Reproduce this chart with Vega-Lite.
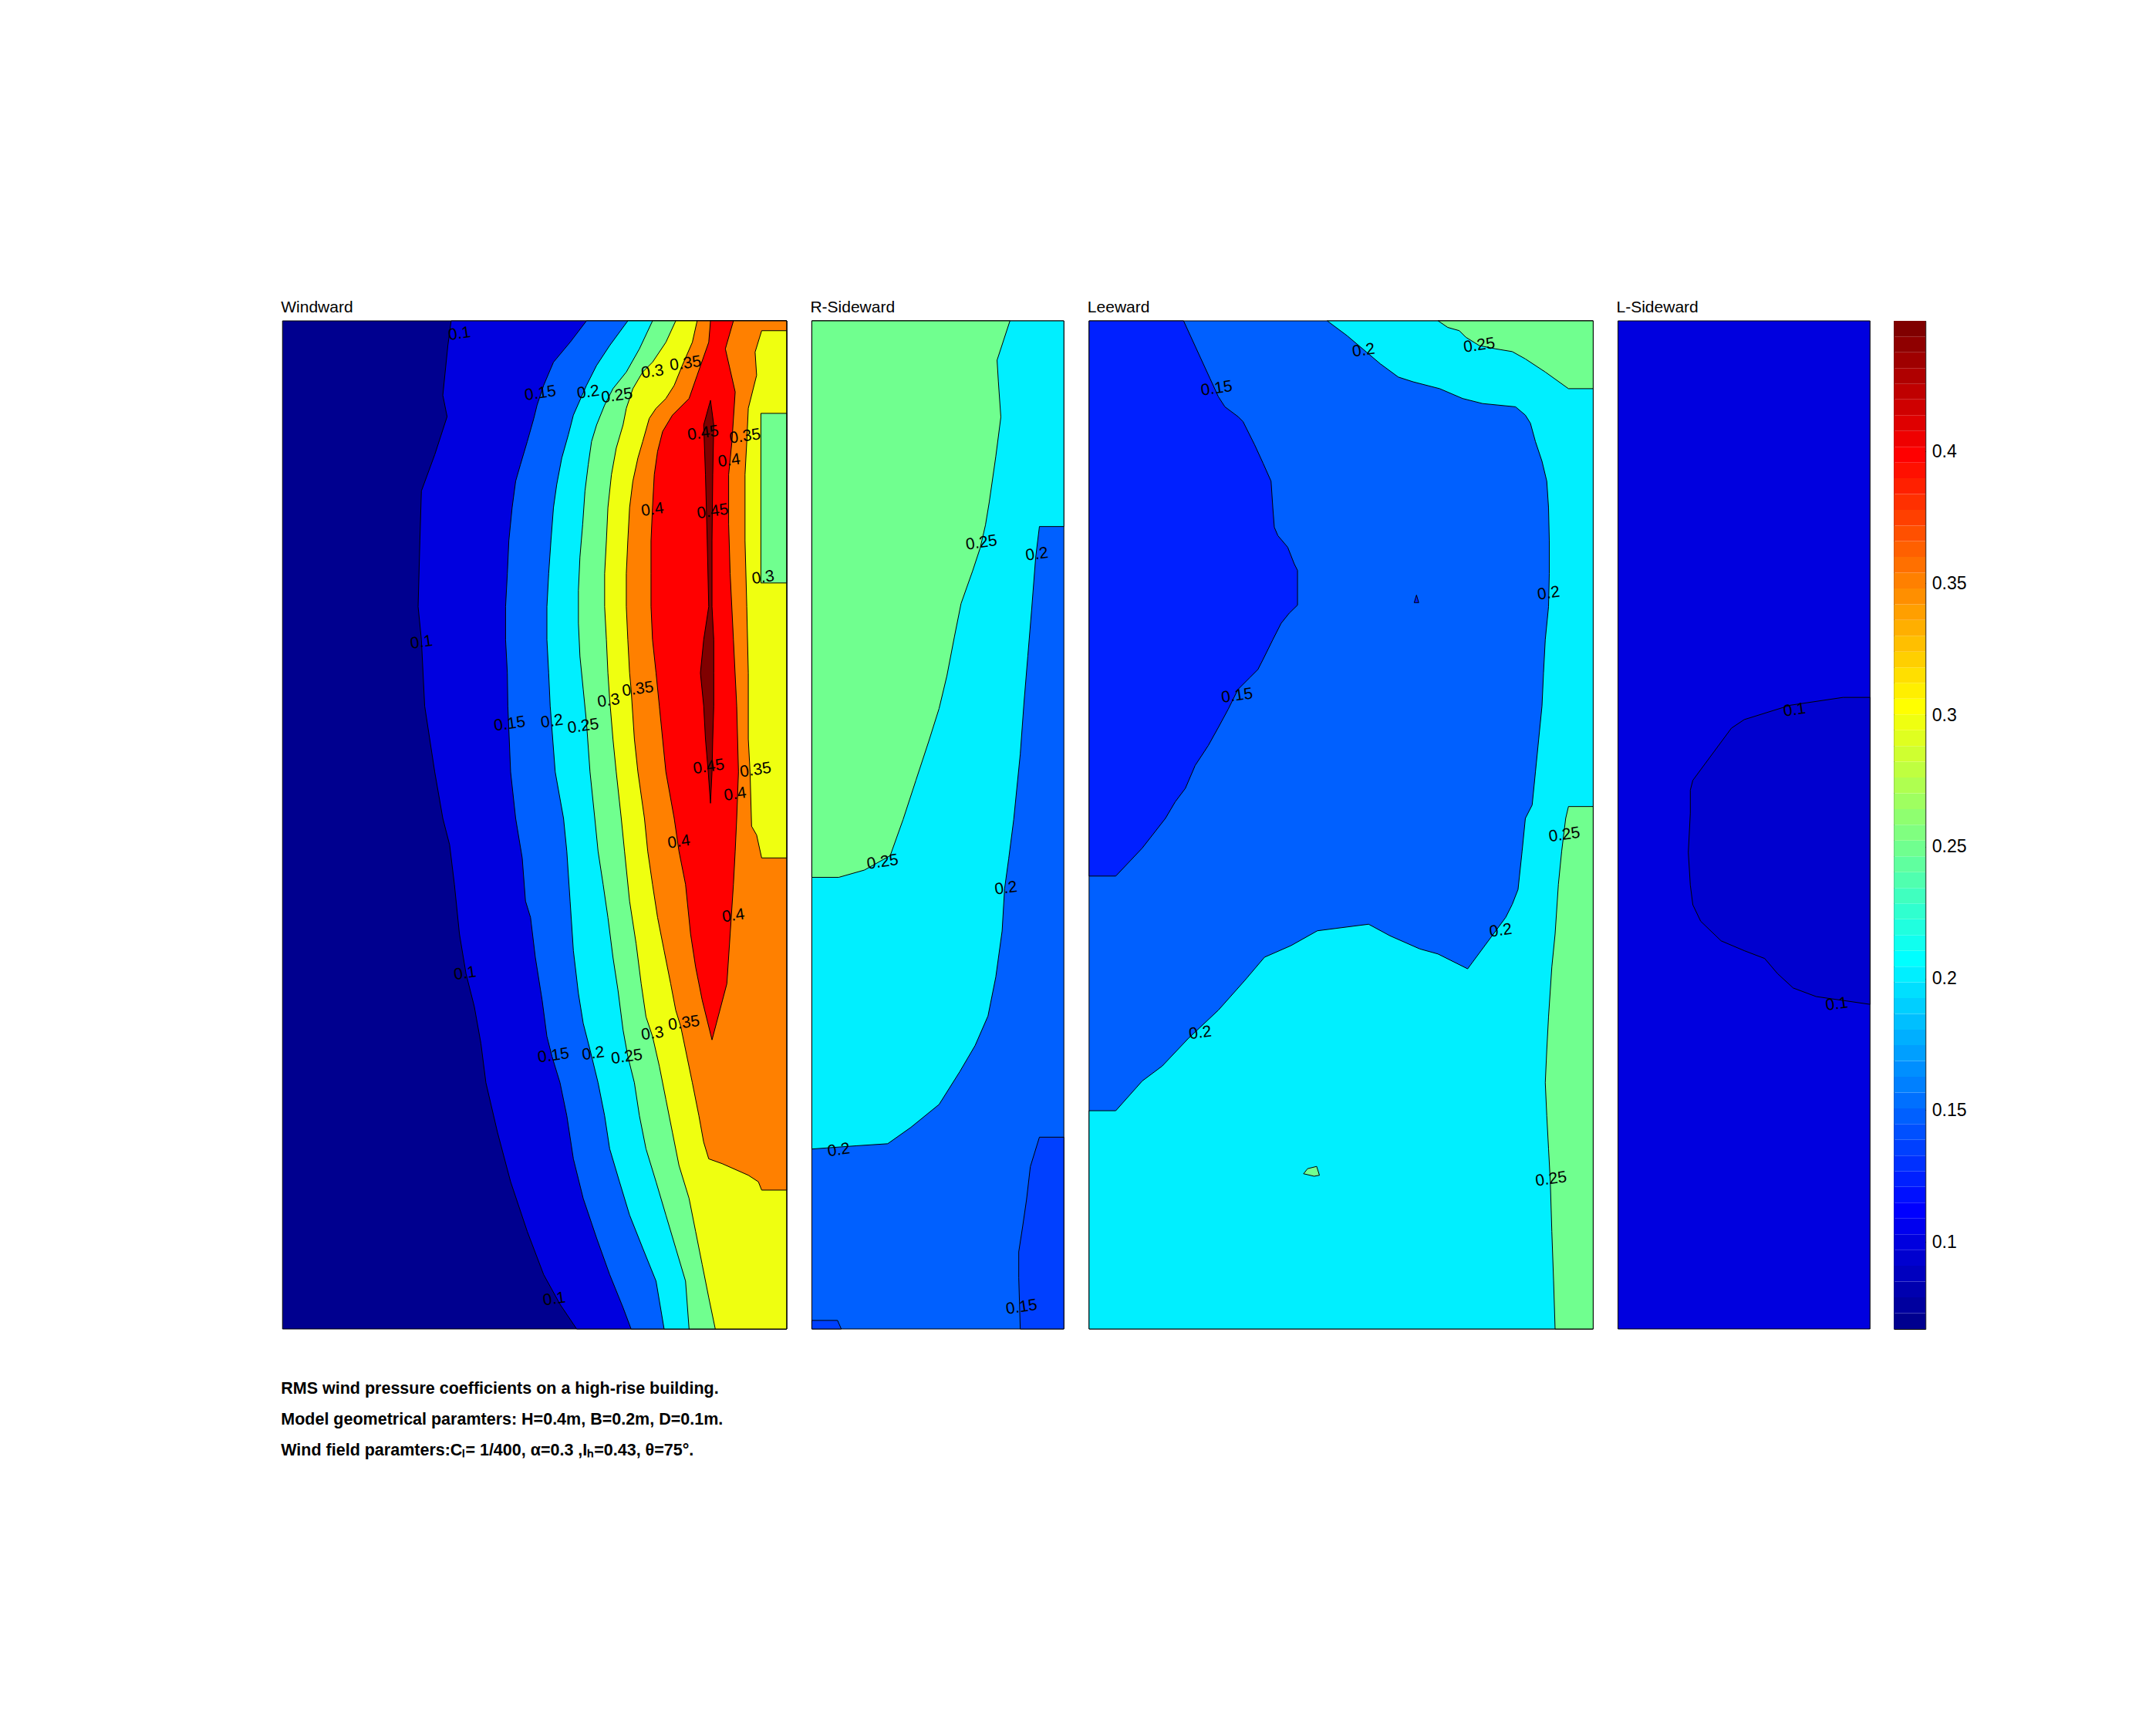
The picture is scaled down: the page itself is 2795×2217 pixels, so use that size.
{
  "$schema": "https://vega.github.io/schema/vega-lite/v6.json",
  "background": "white",
  "padding": {"left": 364, "top": 388, "right": 20, "bottom": 20},
  "spacing": 27.8,
  "config": {
    "view": {"stroke": null},
    "font": "Liberation Sans",
    "title": {"anchor": "start", "fontSize": 21, "fontWeight": "normal", "offset": 5, "font": "Liberation Sans", "color": "black"}
  },
  "title": {
    "text": ["RMS wind pressure coefficients on a high-rise building.", "Model geometrical paramters: H=0.4m, B=0.2m, D=0.1m.", "Wind field paramters:Cₗ= 1/400, α=0.3 ,Iₕ=0.43, θ=75°."],
    "orient": "bottom", "anchor": "start", "fontSize": 21.5, "fontWeight": "bold", "lineHeight": 40, "offset": 65, "font": "Liberation Sans", "color": "black"
  },
  "datasets": {
    "ww": [
      {"level": 0.067, "geo": {"type": "Feature", "properties": {}, "geometry": {"type": "Polygon", "coordinates": [[[0,0],[200,0],[200,400],[0,400],[0,0]]]}}},
      {"level": 0.1, "geo": {"type": "Feature", "properties": {}, "geometry": {"type": "Polygon", "coordinates": [[[66.9,400],[65.6,390.2],[63.6,370.5],[65.3,362.0],[60.4,346.9],[55.1,332.5],[54.5,312.8],[53.8,286.6],[55.1,273.5],[56.4,247.2],[60.4,221.0],[63.6,202.6],[66.3,192.1],[68.2,176.4],[70.2,156.7],[72.8,141.0],[76.1,127.9],[78.7,113.4],[80.7,97.7],[85.3,78.0],[90.5,58.4],[97.1,38.7],[103.6,21.6],[110.1,9.8],[116.7,0],[200,0],[200,400],[66.9,400]]]}}},
      {"level": 0.15, "geo": {"type": "Feature", "properties": {}, "geometry": {"type": "Polygon", "coordinates": [[[120.6,400],[114.1,391.5],[107.5,383.6],[103.6,374.4],[101.0,366.6],[99.7,361.3],[97.1,352.1],[94.4,343.0],[92.5,336.4],[91.1,325.9],[89.8,312.8],[89.2,299.7],[88.5,286.6],[88.5,273.5],[89.2,260.3],[89.4,247.2],[90.5,221.0],[92.5,202.6],[95.1,186.9],[96.4,169.8],[98.4,163.3],[100.3,147.5],[103.0,130.5],[104.9,116.1],[106.9,108.2],[110.1,97.7],[112.8,84.6],[115.4,67.5],[119.3,51.8],[124.6,36.1],[129.8,21.6],[135.1,8.5],[138.3,0],[200,0],[200,400],[120.6,400]]]}}},
      {"level": 0.2, "geo": {"type": "Feature", "properties": {}, "geometry": {"type": "Polygon", "coordinates": [[[137.0,400],[129.8,390.2],[124.6,382.3],[120.6,374.4],[115.4,362.6],[113.4,354.8],[110.8,345.6],[108.8,335.1],[107.5,325.9],[106.5,312.8],[105.6,299.7],[104.9,286.6],[104.9,273.5],[105.6,260.3],[106.2,247.2],[108.2,221.0],[111.5,202.6],[112.8,189.5],[114.1,169.8],[115.4,150.1],[117.4,133.1],[119.3,121.3],[122.0,110.8],[125.2,97.7],[127.8,84.6],[129.8,71.5],[133.7,58.4],[137.7,45.2],[142.9,32.1],[148.2,19.0],[151.4,0],[200,0],[200,400],[137.0,400]]]}}},
      {"level": 0.25, "geo": {"type": "Feature", "properties": {}, "geometry": {"type": "Polygon", "coordinates": [[[146.8,400],[141.6,388.9],[136.4,379.7],[131.1,373.1],[127.8,366.6],[124.6,358.7],[122.6,352.1],[121.3,343.0],[120.0,332.5],[119.1,319.4],[118.0,306.3],[117.4,293.1],[117.4,280.0],[118.0,266.9],[119.3,253.8],[120.6,240.7],[122.0,221.0],[123.9,202.6],[125.2,189.5],[127.2,176.4],[129.1,163.3],[131.1,147.5],[133.1,134.4],[135.1,118.7],[137.0,108.2],[139.6,97.7],[141.6,84.6],[144.2,71.5],[148.2,58.4],[152.1,45.2],[156.0,32.1],[159.9,19.0],[161.3,0],[200,0],[200,400],[146.8,400]]]}}},
      {"level": 0.3, "geo": {"type": "Feature", "properties": {}, "geometry": {"type": "Polygon", "coordinates": [[[156.0,400],[152.1,391.5],[146.8,383.6],[142.9,379.7],[139.0,373.1],[136.4,365.3],[135.1,358.7],[132.4,349.5],[130.5,339.0],[129.1,325.9],[128.5,312.8],[127.8,299.7],[127.8,286.6],[128.5,273.5],[129.1,260.3],[129.8,249.8],[131.1,234.1],[132.4,221.0],[134.4,202.6],[135.7,189.5],[137.7,169.8],[140.3,152.8],[142.3,137.0],[144.2,123.9],[146.8,116.1],[149.5,104.3],[152.1,91.1],[154.7,78.0],[157.3,64.9],[161.3,51.8],[163.9,38.7],[166.5,25.6],[169.1,12.5],[171.7,0],[200,0],[200,400],[156.0,400]]]}}},
      {"level": 0.35, "geo": {"type": "Feature", "properties": {}, "geometry": {"type": "Polygon", "coordinates": [[[164.5,400],[162.6,391.5],[158.6,382.3],[155.4,374.4],[152.1,369.2],[148.2,365.3],[145.5,361.3],[142.9,352.1],[141.0,345.6],[139.0,336.4],[137.7,325.9],[137.0,312.8],[136.4,299.7],[136.4,286.6],[137.0,273.5],[137.7,260.3],[138.3,253.8],[139.6,234.1],[141.0,221.0],[143.6,202.6],[144.9,189.5],[146.8,176.4],[148.8,163.3],[151.4,150.1],[154.0,137.0],[156.0,126.5],[158.0,120.0],[159.9,110.8],[162.6,97.7],[165.2,84.6],[167.1,74.1],[169.1,67.5],[174.4,65.6],[184.8,61.0],[188.8,58.4],[190.1,55.1],[200,55.1],[200,400],[164.5,400]]]}}},
      {"level": 0.3, "geo": {"type": "Feature", "properties": {}, "geometry": {"type": "Polygon", "coordinates": [[[200,396.1],[190.1,396.1],[187.5,387.6],[188.1,378.4],[184.8,365.3],[184.2,352.1],[183.5,339.0],[183.5,312.8],[184.2,286.6],[184.8,260.3],[184.8,234.1],[185.5,221.0],[186.1,199.5],[188.1,196.0],[190.1,186.9],[200,186.9],[200,396.1]]]}}},
      {"level": 0.25, "geo": {"type": "Feature", "properties": {}, "geometry": {"type": "Polygon", "coordinates": [[[189.8,363.3],[200,363.3],[200,296.0],[189.8,296.0],[189.8,363.3]]]}}},
      {"level": 0.4, "geo": {"type": "Feature", "properties": {}, "geometry": {"type": "Polygon", "coordinates": [[[169.8,400],[169.1,391.5],[164.5,378.4],[161.3,369.2],[154.7,362.6],[150.8,356.1],[148.8,348.2],[147.5,339.0],[146.8,325.9],[146.2,312.8],[146.2,299.7],[146.2,286.6],[146.8,273.5],[148.2,260.3],[149.5,247.2],[150.8,234.1],[152.1,221.0],[155.4,202.6],[157.3,189.5],[159.9,176.4],[161.9,156.7],[163.9,143.6],[166.5,130.5],[170.4,114.7],[176.3,137.0],[177.6,156.7],[178.9,176.4],[179.6,189.5],[180.2,202.6],[180.9,221.0],[180.2,247.2],[178.9,273.5],[177.6,299.7],[177.0,319.4],[177.0,339.0],[178.3,352.1],[179.6,371.8],[175.7,388.9],[178.9,400],[169.8,400]]]}}},
      {"level": 0.45, "geo": {"type": "Feature", "properties": {}, "geometry": {"type": "Polygon", "coordinates": [[[169.8,368.5],[167.1,358.7],[167.8,339.0],[168.5,312.8],[169.1,286.6],[167.1,273.5],[165.8,260.3],[167.1,247.2],[167.8,234.1],[168.9,221.0],[169.8,208.6],[170.4,221.0],[170.7,234.1],[171.1,247.2],[171.1,260.3],[171.1,273.5],[170.4,286.6],[170.4,312.8],[170.7,339.0],[171.1,358.7],[169.8,368.5]]]}}}
    ],
    "wwLab": [
      {"x": 70.2, "y": 394.8, "label": "0.1"}, {"x": 102.3, "y": 371.2, "label": "0.15"}, {"x": 121.3, "y": 371.6, "label": "0.2"},
      {"x": 132.7, "y": 370.2, "label": "0.25"}, {"x": 146.8, "y": 379.7, "label": "0.3"}, {"x": 159.9, "y": 383.0, "label": "0.35"},
      {"x": 166.9, "y": 355.4, "label": "0.45"}, {"x": 183.5, "y": 354.1, "label": "0.35"}, {"x": 177.2, "y": 344.5, "label": "0.4"},
      {"x": 146.8, "y": 325.0, "label": "0.4"}, {"x": 170.7, "y": 324.3, "label": "0.45"}, {"x": 190.7, "y": 298.1, "label": "0.3"},
      {"x": 55.1, "y": 272.4, "label": "0.1"}, {"x": 129.4, "y": 249.2, "label": "0.3"}, {"x": 141.0, "y": 253.8, "label": "0.35"},
      {"x": 90.1, "y": 240.0, "label": "0.15"}, {"x": 106.9, "y": 241.0, "label": "0.2"}, {"x": 119.3, "y": 239.1, "label": "0.25"},
      {"x": 169.1, "y": 223.0, "label": "0.45"}, {"x": 187.7, "y": 221.7, "label": "0.35"}, {"x": 179.6, "y": 212.1, "label": "0.4"},
      {"x": 157.3, "y": 193.2, "label": "0.4"}, {"x": 178.9, "y": 163.9, "label": "0.4"}, {"x": 72.4, "y": 141.0, "label": "0.1"},
      {"x": 146.8, "y": 117.1, "label": "0.3"}, {"x": 159.3, "y": 121.3, "label": "0.35"}, {"x": 107.5, "y": 108.4, "label": "0.15"},
      {"x": 123.3, "y": 109.2, "label": "0.2"}, {"x": 136.6, "y": 107.9, "label": "0.25"}, {"x": 107.8, "y": 11.8, "label": "0.1"}
    ],
    "rs": [
      {"level": 0.15, "geo": {"type": "Feature", "properties": {}, "geometry": {"type": "Polygon", "coordinates": [[[0,0],[100,0],[100,400],[0,400],[0,0]]]}}},
      {"level": 0.2, "geo": {"type": "Feature", "properties": {}, "geometry": {"type": "Polygon", "coordinates": [[[0,400],[100,400],[100,318.4],[90.3,318.4],[88.8,306.0],[87.2,285.2],[85.7,267.0],[84.2,248.8],[82.7,228.1],[80.1,202.1],[78.1,186.5],[76.5,174.8],[75.5,157.9],[73.0,139.7],[69.9,124.2],[64.8,112.5],[58.7,102.1],[50.5,89.1],[39.3,80.0],[30.1,73.5],[17.9,72.7],[0,71.4],[0,400]]]}}},
      {"level": 0.25, "geo": {"type": "Feature", "properties": {}, "geometry": {"type": "Polygon", "coordinates": [[[0,400],[78.6,400],[73.5,384.4],[74.0,376.1],[75.0,361.8],[73.0,346.2],[70.4,328.1],[68.9,319.0],[66.8,309.9],[63.8,300.8],[59.2,287.8],[56.6,274.8],[53.6,259.2],[50.5,246.2],[46.4,233.2],[41.3,217.7],[36.2,202.1],[31.1,187.8],[20.9,182.1],[10.7,179.2],[0,179.2],[0,400]]]}}},
      {"level": 0.136, "geo": {"type": "Feature", "properties": {}, "geometry": {"type": "Polygon", "coordinates": [[[100,76.1],[90.3,76.1],[86.7,64.4],[85.2,51.4],[83.7,41.0],[82.1,30.6],[82.1,20.3],[82.7,0],[100,0],[100,76.1]]]}}},
      {"level": 0.136, "geo": {"type": "Feature", "properties": {}, "geometry": {"type": "Polygon", "coordinates": [[[0,3.4],[10.2,3.4],[11.7,0],[0,0],[0,3.4]]]}}}
    ],
    "rsLab": [
      {"x": 67.3, "y": 311.9, "label": "0.25"}, {"x": 89.3, "y": 307.3, "label": "0.2"}, {"x": 28.1, "y": 185.2, "label": "0.25"},
      {"x": 77.0, "y": 174.8, "label": "0.2"}, {"x": 10.7, "y": 70.9, "label": "0.2"}, {"x": 83.2, "y": 8.6, "label": "0.15"}
    ],
    "lw": [
      {"level": 0.15, "geo": {"type": "Feature", "properties": {}, "geometry": {"type": "Polygon", "coordinates": [[[0,0],[200,0],[200,400],[0,400],[0,0]]]}}},
      {"level": 0.124, "geo": {"type": "Feature", "properties": {}, "geometry": {"type": "Polygon", "coordinates": [[[0,400],[37.5,400],[44.1,385.6],[48.0,377.1],[51.3,369.9],[53.9,365.9],[59.1,362.0],[61.1,360.0],[65.7,350.8],[69.0,343.6],[72.2,336.4],[72.9,325.9],[73.5,318.1],[74.9,314.8],[78.8,310.2],[81.4,303.6],[82.7,301.0],[82.7,287.2],[79.4,284.0],[76.2,280.0],[72.9,273.5],[69.0,265.6],[67.0,261.7],[63.7,258.4],[59.1,253.8],[55.2,245.9],[51.3,238.7],[47.3,231.5],[42.1,223.6],[38.2,214.5],[34.2,209.2],[30.3,202.6],[21.1,190.8],[10.6,179.7],[0,179.7],[0,400]]]}}},
      {"level": 0.124, "geo": {"type": "Feature", "properties": {}, "geometry": {"type": "Polygon", "coordinates": [[[129.9,291.2],[130.8,288.2],[129.0,288.2],[129.9,291.2]]]}}},
      {"level": 0.2, "geo": {"type": "Feature", "properties": {}, "geometry": {"type": "Polygon", "coordinates": [[[94.5,400],[200,400],[200,0],[0,0],[0,86.6],[10.6,86.6],[21.1,98.4],[29.0,104.3],[39.5,115.4],[51.3,126.5],[61.8,138.3],[69.6,147.5],[80.1,152.1],[90.6,158.0],[110.9,160.6],[119.4,156.0],[131.2,150.8],[138.4,148.8],[150.2,142.9],[165.3,163.3],[167.9,168.5],[170.2,174.4],[171.8,189.5],[173.1,202.6],[175.8,207.9],[177.1,221.0],[178.4,234.1],[179.7,247.2],[180.3,260.3],[181.0,273.5],[182.3,286.6],[182.6,299.7],[182.6,312.8],[182.3,325.9],[181.6,336.4],[179.7,344.3],[177.1,352.1],[175.1,359.4],[173.1,362.6],[169.2,365.9],[156.1,367.2],[148.2,369.2],[139.1,373.1],[128.6,375.8],[122.7,377.7],[115.5,383.0],[110.2,387.5],[102.4,394.1],[94.5,400]]]}}},
      {"level": 0.25, "geo": {"type": "Feature", "properties": {}, "geometry": {"type": "Polygon", "coordinates": [[[138.5,400],[142.3,397.4],[146.9,396.1],[149.5,393.5],[154.8,390.2],[161.3,388.9],[167.9,387.8],[173.1,384.9],[181.0,379.7],[190.2,373.1],[200,373.1],[200,400],[138.5,400]]]}}},
      {"level": 0.25, "geo": {"type": "Feature", "properties": {}, "geometry": {"type": "Polygon", "coordinates": [[[200,207.3],[190.2,207.3],[189.1,202.6],[187.5,189.5],[186.2,176.4],[184.9,156.7],[183.6,143.6],[182.3,123.9],[181.6,110.8],[181.0,97.7],[181.6,84.6],[182.3,71.5],[183.0,58.4],[183.6,38.7],[184.3,19.0],[184.9,0],[200,0],[200,207.3]]]}}},
      {"level": 0.25, "geo": {"type": "Feature", "properties": {}, "geometry": {"type": "Polygon", "coordinates": [[[85.1,61.6],[86.7,63.6],[90.3,64.5],[91.4,61.0],[89.3,60.6],[85.1,61.6]]]}}}
    ],
    "lwLab": [
      {"x": 108.9, "y": 388.2, "label": "0.2"}, {"x": 154.8, "y": 390.2, "label": "0.25"}, {"x": 50.6, "y": 373.1, "label": "0.15"},
      {"x": 182.3, "y": 291.8, "label": "0.2"}, {"x": 58.7, "y": 251.2, "label": "0.15"}, {"x": 188.6, "y": 196.0, "label": "0.25"},
      {"x": 163.3, "y": 158.0, "label": "0.2"}, {"x": 44.1, "y": 117.4, "label": "0.2"}, {"x": 183.3, "y": 59.4, "label": "0.25"}
    ],
    "ls": [
      {"level": 0.1, "geo": {"type": "Feature", "properties": {}, "geometry": {"type": "Polygon", "coordinates": [[[0,0],[100,0],[100,400],[0,400],[0,0]]]}}},
      {"level": 0.094, "geo": {"type": "Feature", "properties": {}, "geometry": {"type": "Polygon", "coordinates": [[[100,250.6],[89.3,250.6],[68.4,247.5],[50.1,241.8],[45.0,238.4],[29.7,217.7],[28.7,213.8],[28.7,204.7],[27.9,189.1],[28.7,176.1],[29.7,168.3],[32.8,161.8],[40.9,154.0],[50.1,150.1],[58.2,147.0],[63.3,141.0],[69.5,135.3],[78.6,131.9],[100,128.8],[100,250.6]]]}}}
    ],
    "lsLab": [
      {"x": 70.0, "y": 245.5, "label": "0.1"}, {"x": 86.8, "y": 128.8, "label": "0.1"}
    ],
    "cbar": [
      {"lo":0.067,"hi":0.073},{"lo":0.073,"hi":0.079},{"lo":0.079,"hi":0.085},{"lo":0.085,"hi":0.091},{"lo":0.091,"hi":0.0969},{"lo":0.0969,"hi":0.1029},{"lo":0.1029,"hi":0.1089},{"lo":0.1089,"hi":0.1149},{"lo":0.1149,"hi":0.1209},{"lo":0.1209,"hi":0.1268},{"lo":0.1268,"hi":0.1328},{"lo":0.1328,"hi":0.1388},{"lo":0.1388,"hi":0.1448},{"lo":0.1448,"hi":0.1507},{"lo":0.1507,"hi":0.1567},{"lo":0.1567,"hi":0.1627},{"lo":0.1627,"hi":0.1687},{"lo":0.1687,"hi":0.1747},{"lo":0.1747,"hi":0.1806},{"lo":0.1806,"hi":0.1866},{"lo":0.1866,"hi":0.1926},{"lo":0.1926,"hi":0.1986},{"lo":0.1986,"hi":0.2045},{"lo":0.2045,"hi":0.2105},{"lo":0.2105,"hi":0.2165},{"lo":0.2165,"hi":0.2225},{"lo":0.2225,"hi":0.2285},{"lo":0.2285,"hi":0.2344},{"lo":0.2344,"hi":0.2404},{"lo":0.2404,"hi":0.2464},{"lo":0.2464,"hi":0.2524},{"lo":0.2524,"hi":0.2584},{"lo":0.2584,"hi":0.2643},{"lo":0.2643,"hi":0.2703},{"lo":0.2703,"hi":0.2763},{"lo":0.2763,"hi":0.2823},{"lo":0.2823,"hi":0.2882},{"lo":0.2882,"hi":0.2942},{"lo":0.2942,"hi":0.3002},{"lo":0.3002,"hi":0.3062},{"lo":0.3062,"hi":0.3122},{"lo":0.3122,"hi":0.3181},{"lo":0.3181,"hi":0.3241},{"lo":0.3241,"hi":0.3301},{"lo":0.3301,"hi":0.3361},{"lo":0.3361,"hi":0.342},{"lo":0.342,"hi":0.348},{"lo":0.348,"hi":0.354},{"lo":0.354,"hi":0.36},{"lo":0.36,"hi":0.366},{"lo":0.366,"hi":0.3719},{"lo":0.3719,"hi":0.3779},{"lo":0.3779,"hi":0.3839},{"lo":0.3839,"hi":0.3899},{"lo":0.3899,"hi":0.3958},{"lo":0.3958,"hi":0.4018},{"lo":0.4018,"hi":0.4078},{"lo":0.4078,"hi":0.4138},{"lo":0.4138,"hi":0.4198},{"lo":0.4198,"hi":0.4257},{"lo":0.4257,"hi":0.4317},{"lo":0.4317,"hi":0.4377},{"lo":0.4377,"hi":0.4437},{"lo":0.4437,"hi":0.4496}
    ]
  },
  "hconcat": [
    {
      "title": "Windward", "width": 654, "height": 1307,
      "projection": {"type": "identity", "reflectY": true},
      "layer": [
        {"data": {"name": "ww"}, "mark": {"type": "geoshape", "stroke": "black", "strokeWidth": 1},
         "encoding": {"shape": {"field": "geo", "type": "geojson"},
           "color": {"field": "level", "type": "quantitative", "legend": null, "scale": {"type": "quantize", "domain": [0.067, 0.4496], "nice": false, "zero": false, "range": ["#00008F","#00009F","#0000AF","#0000BF","#0000CF","#0000DF","#0000EF","#0000FF","#0010FF","#0020FF","#0030FF","#0040FF","#0050FF","#0060FF","#0070FF","#0080FF","#008FFF","#009FFF","#00AFFF","#00BFFF","#00CFFF","#00DFFF","#00EFFF","#00FFFF","#10FFEF","#20FFDF","#30FFCF","#40FFBF","#50FFAF","#60FF9F","#70FF8F","#80FF80","#8FFF70","#9FFF60","#AFFF50","#BFFF40","#CFFF30","#DFFF20","#EFFF10","#FFFF00","#FFEF00","#FFDF00","#FFCF00","#FFBF00","#FFAF00","#FF9F00","#FF8F00","#FF8000","#FF7000","#FF6000","#FF5000","#FF4000","#FF3000","#FF2000","#FF1000","#FF0000","#EF0000","#DF0000","#CF0000","#BF0000","#AF0000","#9F0000","#8F0000","#800000"]}}}},
        {"data": {"name": "wwLab"}, "mark": {"type": "text", "fontSize": 21, "angle": 352, "color": "black", "font": "Liberation Sans"},
         "encoding": {"longitude": {"field": "x", "type": "quantitative"}, "latitude": {"field": "y", "type": "quantitative"}, "text": {"field": "label", "type": "nominal"}}}
      ]
    },
    {
      "title": "R-Sideward", "width": 328, "height": 1307,
      "projection": {"type": "identity", "reflectY": true},
      "layer": [
        {"data": {"name": "rs"}, "mark": {"type": "geoshape", "stroke": "black", "strokeWidth": 1},
         "encoding": {"shape": {"field": "geo", "type": "geojson"},
           "color": {"field": "level", "type": "quantitative", "legend": null, "scale": {"type": "quantize", "domain": [0.067, 0.4496], "nice": false, "zero": false, "range": ["#00008F","#00009F","#0000AF","#0000BF","#0000CF","#0000DF","#0000EF","#0000FF","#0010FF","#0020FF","#0030FF","#0040FF","#0050FF","#0060FF","#0070FF","#0080FF","#008FFF","#009FFF","#00AFFF","#00BFFF","#00CFFF","#00DFFF","#00EFFF","#00FFFF","#10FFEF","#20FFDF","#30FFCF","#40FFBF","#50FFAF","#60FF9F","#70FF8F","#80FF80","#8FFF70","#9FFF60","#AFFF50","#BFFF40","#CFFF30","#DFFF20","#EFFF10","#FFFF00","#FFEF00","#FFDF00","#FFCF00","#FFBF00","#FFAF00","#FF9F00","#FF8F00","#FF8000","#FF7000","#FF6000","#FF5000","#FF4000","#FF3000","#FF2000","#FF1000","#FF0000","#EF0000","#DF0000","#CF0000","#BF0000","#AF0000","#9F0000","#8F0000","#800000"]}}}},
        {"data": {"name": "rsLab"}, "mark": {"type": "text", "fontSize": 21, "angle": 352, "color": "black", "font": "Liberation Sans"},
         "encoding": {"longitude": {"field": "x", "type": "quantitative"}, "latitude": {"field": "y", "type": "quantitative"}, "text": {"field": "label", "type": "nominal"}}}
      ]
    },
    {
      "title": "Leeward", "width": 654, "height": 1307,
      "projection": {"type": "identity", "reflectY": true},
      "layer": [
        {"data": {"name": "lw"}, "mark": {"type": "geoshape", "stroke": "black", "strokeWidth": 1},
         "encoding": {"shape": {"field": "geo", "type": "geojson"},
           "color": {"field": "level", "type": "quantitative", "legend": null, "scale": {"type": "quantize", "domain": [0.067, 0.4496], "nice": false, "zero": false, "range": ["#00008F","#00009F","#0000AF","#0000BF","#0000CF","#0000DF","#0000EF","#0000FF","#0010FF","#0020FF","#0030FF","#0040FF","#0050FF","#0060FF","#0070FF","#0080FF","#008FFF","#009FFF","#00AFFF","#00BFFF","#00CFFF","#00DFFF","#00EFFF","#00FFFF","#10FFEF","#20FFDF","#30FFCF","#40FFBF","#50FFAF","#60FF9F","#70FF8F","#80FF80","#8FFF70","#9FFF60","#AFFF50","#BFFF40","#CFFF30","#DFFF20","#EFFF10","#FFFF00","#FFEF00","#FFDF00","#FFCF00","#FFBF00","#FFAF00","#FF9F00","#FF8F00","#FF8000","#FF7000","#FF6000","#FF5000","#FF4000","#FF3000","#FF2000","#FF1000","#FF0000","#EF0000","#DF0000","#CF0000","#BF0000","#AF0000","#9F0000","#8F0000","#800000"]}}}},
        {"data": {"name": "lwLab"}, "mark": {"type": "text", "fontSize": 21, "angle": 352, "color": "black", "font": "Liberation Sans"},
         "encoding": {"longitude": {"field": "x", "type": "quantitative"}, "latitude": {"field": "y", "type": "quantitative"}, "text": {"field": "label", "type": "nominal"}}}
      ]
    },
    {
      "title": "L-Sideward", "width": 327, "height": 1307,
      "projection": {"type": "identity", "reflectY": true},
      "layer": [
        {"data": {"name": "ls"}, "mark": {"type": "geoshape", "stroke": "black", "strokeWidth": 1},
         "encoding": {"shape": {"field": "geo", "type": "geojson"},
           "color": {"field": "level", "type": "quantitative", "legend": null, "scale": {"type": "quantize", "domain": [0.067, 0.4496], "nice": false, "zero": false, "range": ["#00008F","#00009F","#0000AF","#0000BF","#0000CF","#0000DF","#0000EF","#0000FF","#0010FF","#0020FF","#0030FF","#0040FF","#0050FF","#0060FF","#0070FF","#0080FF","#008FFF","#009FFF","#00AFFF","#00BFFF","#00CFFF","#00DFFF","#00EFFF","#00FFFF","#10FFEF","#20FFDF","#30FFCF","#40FFBF","#50FFAF","#60FF9F","#70FF8F","#80FF80","#8FFF70","#9FFF60","#AFFF50","#BFFF40","#CFFF30","#DFFF20","#EFFF10","#FFFF00","#FFEF00","#FFDF00","#FFCF00","#FFBF00","#FFAF00","#FF9F00","#FF8F00","#FF8000","#FF7000","#FF6000","#FF5000","#FF4000","#FF3000","#FF2000","#FF1000","#FF0000","#EF0000","#DF0000","#CF0000","#BF0000","#AF0000","#9F0000","#8F0000","#800000"]}}}},
        {"data": {"name": "lsLab"}, "mark": {"type": "text", "fontSize": 21, "angle": 352, "color": "black", "font": "Liberation Sans"},
         "encoding": {"longitude": {"field": "x", "type": "quantitative"}, "latitude": {"field": "y", "type": "quantitative"}, "text": {"field": "label", "type": "nominal"}}}
      ]
    },
    {
      "title": " ", "width": 41, "height": 1307,
      "view": {"stroke": "black", "strokeWidth": 1},
      "data": {"name": "cbar"},
      "mark": {"type": "rect"},
      "encoding": {
        "y": {"field": "lo", "type": "quantitative", "scale": {"domain": [0.067, 0.4496], "nice": false, "zero": false},
              "axis": {"orient": "right", "values": [0.1, 0.15, 0.2, 0.25, 0.3, 0.35, 0.4], "format": ".2~f", "title": null, "grid": false, "domain": false, "tickSize": -41, "tickDash": [13, 15], "tickColor": "black", "tickWidth": 1, "labelPadding": 49, "labelFontSize": 23, "labelColor": "black", "labelFont": "Liberation Sans"}},
        "y2": {"field": "hi"},
        "color": {"field": "lo", "type": "quantitative", "legend": null, "scale": {"type": "quantize", "domain": [0.067, 0.4496], "nice": false, "zero": false, "range": ["#00008F","#00009F","#0000AF","#0000BF","#0000CF","#0000DF","#0000EF","#0000FF","#0010FF","#0020FF","#0030FF","#0040FF","#0050FF","#0060FF","#0070FF","#0080FF","#008FFF","#009FFF","#00AFFF","#00BFFF","#00CFFF","#00DFFF","#00EFFF","#00FFFF","#10FFEF","#20FFDF","#30FFCF","#40FFBF","#50FFAF","#60FF9F","#70FF8F","#80FF80","#8FFF70","#9FFF60","#AFFF50","#BFFF40","#CFFF30","#DFFF20","#EFFF10","#FFFF00","#FFEF00","#FFDF00","#FFCF00","#FFBF00","#FFAF00","#FF9F00","#FF8F00","#FF8000","#FF7000","#FF6000","#FF5000","#FF4000","#FF3000","#FF2000","#FF1000","#FF0000","#EF0000","#DF0000","#CF0000","#BF0000","#AF0000","#9F0000","#8F0000","#800000"]}}
      }
    }
  ]
}
